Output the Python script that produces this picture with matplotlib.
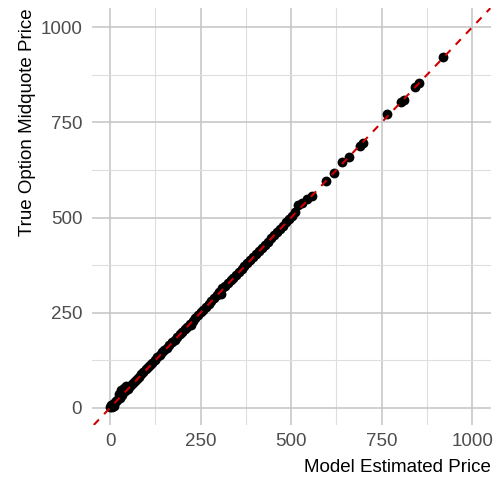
import numpy as np
import matplotlib
matplotlib.use("Agg")
import matplotlib.pyplot as plt

plt.rcParams['font.family'] = ['Liberation Sans', 'DejaVu Sans']

# model estimates vs. observed midquotes
model_price = [1, 3, 5, 8, 10, 13, 16, 20, 24, 27, 30, 33, 38, 42, 45, 49, 53, 58, 63, 68,
               74, 80, 86, 92, 98, 104, 110, 117, 124, 130, 137, 144, 150, 157, 164, 171,
               178, 185, 192, 199, 206, 213, 220, 224, 228, 235, 242, 250, 257, 264, 272,
               280, 287, 295, 302, 307, 310, 318, 325, 333, 340, 348, 356, 363, 371, 379,
               387, 395, 403, 411, 420, 428, 436, 445, 453, 462, 470, 478, 487, 495, 503,
               510, 520, 530, 543, 557, 596, 617, 640, 661, 690, 698, 766, 803, 813, 843,
               853, 919]
true_price = [2, 8, 3, 10, 6, 14, 18, 21, 36, 27, 48, 34, 52, 44, 58, 50, 56, 60, 66, 70,
              76, 82, 88, 93, 101, 106, 112, 118, 126, 133, 138, 146, 152, 158, 166, 172,
              179, 187, 193, 200, 207, 212, 219, 218, 229, 236, 243, 251, 258, 266, 273,
              281, 289, 296, 304, 300, 316, 320, 327, 335, 342, 349, 357, 365, 372, 380,
              388, 396, 403, 412, 421, 428, 437, 446, 455, 463, 470, 479, 488, 497, 505,
              515, 532, 538, 549, 556, 595, 617, 647, 660, 687, 697, 772, 804, 810, 842,
              854, 921]

ticks = [0, 250, 500, 750, 1000]
minor_ticks = [125, 375, 625, 875]

fig = plt.figure(figsize=(4.97, 4.84), dpi=100)
ax = fig.add_axes([0.185, 0.122, 0.803, 0.861])

ax.scatter(model_price, true_price, s=50, color='black', linewidths=0, zorder=3)
ax.axline((0, 0), slope=1, color='#cd0000', linewidth=1.5,
          linestyle=(0, (3.6, 3.6)), zorder=4)

ax.set_xlim(-50, 1052)
ax.set_ylim(-45, 1050)
ax.set_xticks(ticks)
ax.set_yticks(ticks)
ax.set_xticks(minor_ticks, minor=True)
ax.set_yticks(minor_ticks, minor=True)

ax.grid(which='major', color='#c4c4c4', linewidth=1.1)
ax.grid(which='minor', color='#dedede', linewidth=0.8)
ax.set_axisbelow(True)
for s in ax.spines.values():
    s.set_visible(False)
ax.tick_params(which='both', length=0, labelsize=13.5, labelcolor='#4d4d4d')
ax.tick_params(axis='x', pad=6)
ax.tick_params(axis='y', pad=7)

ax.set_xlabel('Model Estimated Price', fontsize=13.5, loc='right', labelpad=6)
ax.set_ylabel('True Option Midquote Price', fontsize=13.5, loc='top', labelpad=3)

fig.savefig('out.png', dpi=100)
